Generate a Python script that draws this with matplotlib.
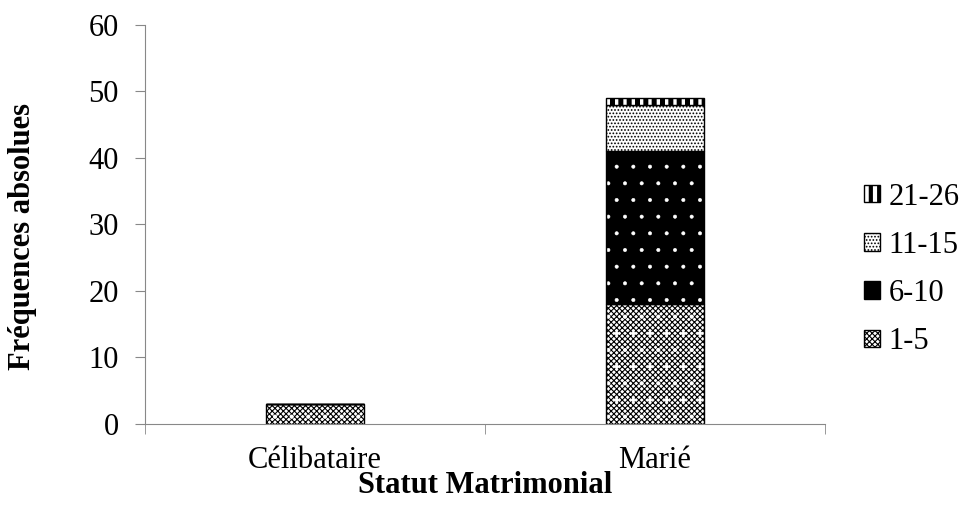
import numpy as np
import matplotlib.pyplot as plt
from matplotlib.patches import Patch

categories = ['Célibataire', 'Marié']
groups = ['1-5', '6-10', '11-15', '21-26']
values = {
    '1-5': [3, 18],
    '6-10': [0, 23],
    '11-15': [0, 7],
    '21-26': [0, 1],
}

# layers per group: (face colour, hatch colour, hatch pattern, hatch linewidth)
styles = {
    '1-5': [('white', 'black', 'xxxxxx', 0.8), ('none', 'white', '.', 0.6)],
    '6-10': [('black', 'white', '.', 0.4)],
    '11-15': [('white', 'black', '.....', 0.8)],
    '21-26': [('white', 'black', '||', 3.6)],
}

plt.rcParams['font.family'] = ['Liberation Serif', 'DejaVu Serif']

fig = plt.figure(figsize=(9.67, 5.15), dpi=100)
ax = fig.add_axes([0.15, 0.177, 0.703, 0.775])

x = np.arange(len(categories))
width = 0.29
bottom = np.zeros(len(categories))
for g in groups:
    v = np.array(values[g], dtype=float)
    for face, hcol, hatch, lw in styles[g]:
        with plt.rc_context({'hatch.linewidth': lw}):
            bars = ax.bar(x, v, width, bottom=bottom, color=face, edgecolor=hcol,
                          hatch=hatch, linewidth=0)
        for b in bars:
            if hasattr(b, 'set_hatch_linewidth'):
                b.set_hatch_linewidth(lw)
    ax.bar(x, v, width, bottom=bottom, color='none', edgecolor='black',
           linewidth=1.0)
    bottom += v

ax.set_xlim(-0.5, 1.5)
ax.set_ylim(0, 60)
ax.set_yticks(range(0, 61, 10))
ax.set_xticks(x)
ax.set_xticklabels(categories)
ax.set_xticks([-0.5, 0.5, 1.5], minor=True)
ax.tick_params(axis='x', which='major', length=0, labelsize=22, pad=16)
ax.tick_params(axis='x', which='minor', length=7, color='#888888')
ax.tick_params(axis='y', labelsize=22, length=7, color='#888888', pad=12)
for s in ['top', 'right']:
    ax.spines[s].set_visible(False)
ax.spines['left'].set_color('#888888')
ax.spines['bottom'].set_color('#888888')

ax.set_xlabel('Statut Matrimonial', fontsize=22, fontweight='bold', labelpad=-3)
ax.set_ylabel('Fréquences absolues', fontsize=22, fontweight='bold')
ax.yaxis.set_label_coords(-0.159, 0.47)

legend_hatch = {'1-5': 'xxxxxx', '6-10': '', '11-15': '.....', '21-26': '||'}
legend_face = {'1-5': 'white', '6-10': 'black', '11-15': 'white', '21-26': 'white'}
legend_hlw = {'1-5': 0.8, '6-10': 0.8, '11-15': 0.8, '21-26': 3.0}
handles = []
for g in reversed(groups):
    handles.append(Patch(facecolor=legend_face[g], edgecolor='black',
                         hatch=legend_hatch[g], linewidth=1.0))
leg = ax.legend(handles, list(reversed(groups)), loc='center left',
                bbox_to_anchor=(1.058, 0.387), frameon=False, fontsize=22,
                handlelength=0.5, handleheight=0.5, handletextpad=0.3,
                labelspacing=0.63, borderpad=0, borderaxespad=0)
for p, g in zip(leg.get_patches(), reversed(groups)):
    if hasattr(p, 'set_hatch_linewidth'):
        p.set_hatch_linewidth(legend_hlw[g])

fig.savefig('out.png', dpi=100)
